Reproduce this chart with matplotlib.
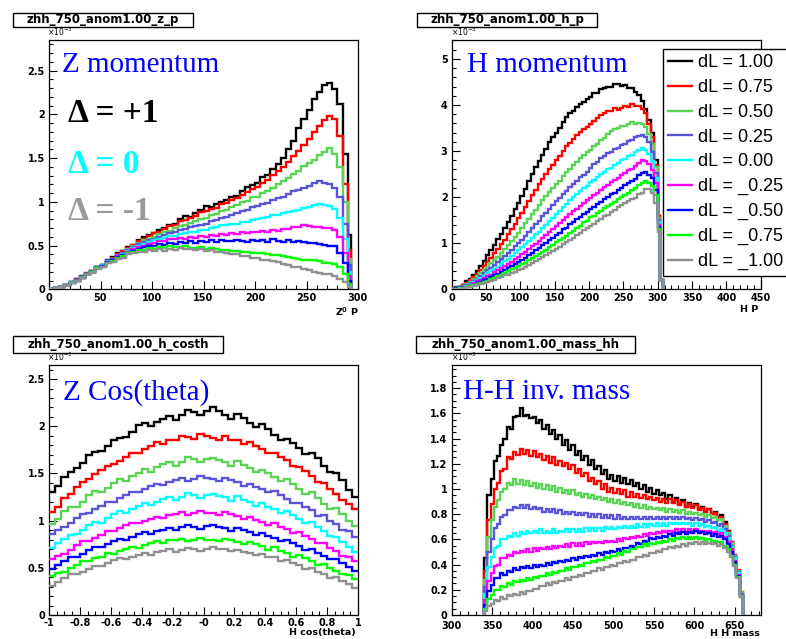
import numpy as np
import matplotlib
matplotlib.use("Agg")
import matplotlib.pyplot as plt
from matplotlib.ticker import MultipleLocator, FixedLocator, FuncFormatter
from matplotlib.patches import Rectangle

# ---------------- data (values in units of 1e-3) ----------------
LABELS = ["dL = 1.00", "dL = 0.75", "dL = 0.50", "dL = 0.25", "dL = 0.00",
          "dL = _0.25", "dL = _0.50", "dL = _0.75", "dL = _1.00"]
COLORS = ["#000000", "#ff0000", "#59d454", "#5954d9", "#00ffff",
          "#ff00ff", "#0000ff", "#00ff00", "#909090"]

# Z momentum (bin edges in GeV)
zp_edges = list(range(0, 281, 5)) + [285, 290, 293]
zp_p100 = [0.00,0.02,0.03,0.05,0.08,0.12,0.15,0.19,0.21,0.25,0.28,0.33,0.37,0.41,0.44,0.48,0.51,0.56,0.60,0.62,
           0.64,0.68,0.70,0.74,0.75,0.80,0.84,0.83,0.87,0.91,0.95,0.94,0.97,1.00,1.02,1.06,1.07,1.12,1.17,1.19,
           1.21,1.28,1.31,1.37,1.43,1.50,1.60,1.70,1.84,1.95,2.05,2.18,2.26,2.33,2.36,2.29,2.12,1.55,0.62]
zp_p075 = [0.00,0.02,0.03,0.05,0.08,0.12,0.14,0.18,0.21,0.25,0.28,0.32,0.36,0.40,0.44,0.47,0.51,0.55,0.58,0.61,
           0.64,0.66,0.69,0.72,0.74,0.78,0.79,0.82,0.84,0.88,0.89,0.92,0.93,0.97,0.99,1.02,1.04,1.08,1.11,1.15,
           1.17,1.22,1.25,1.31,1.35,1.40,1.46,1.52,1.58,1.65,1.72,1.80,1.87,1.93,1.98,1.95,1.75,1.20,0.45]
zp_p050 = [0.00,0.02,0.03,0.05,0.08,0.11,0.14,0.18,0.21,0.25,0.28,0.32,0.35,0.39,0.42,0.46,0.49,0.53,0.56,0.58,
           0.60,0.63,0.65,0.67,0.70,0.72,0.73,0.76,0.78,0.80,0.82,0.85,0.86,0.90,0.91,0.94,0.96,1.00,1.01,1.05,
           1.06,1.10,1.12,1.16,1.20,1.24,1.27,1.32,1.35,1.41,1.44,1.48,1.53,1.57,1.61,1.55,1.40,1.00,0.35]
zp_p025 = [0.00,0.02,0.03,0.05,0.08,0.11,0.14,0.18,0.21,0.25,0.28,0.32,0.35,0.39,0.41,0.45,0.48,0.52,0.54,0.56,
           0.58,0.60,0.62,0.64,0.65,0.68,0.69,0.71,0.72,0.74,0.75,0.78,0.79,0.81,0.83,0.85,0.87,0.89,0.91,0.94,
           0.95,0.97,0.99,1.02,1.04,1.06,1.09,1.12,1.14,1.16,1.18,1.22,1.24,1.22,1.20,1.16,1.05,0.75,0.28]
zp_p000 = [0.00,0.02,0.03,0.05,0.08,0.10,0.14,0.18,0.20,0.24,0.28,0.32,0.34,0.38,0.40,0.44,0.47,0.50,0.52,0.54,
           0.56,0.58,0.59,0.61,0.61,0.63,0.64,0.66,0.66,0.68,0.68,0.70,0.71,0.73,0.73,0.75,0.75,0.77,0.77,0.79,
           0.80,0.82,0.83,0.85,0.85,0.87,0.88,0.90,0.91,0.93,0.94,0.96,0.98,0.96,0.95,0.92,0.82,0.58,0.20]
zp_m025 = [0.00,0.02,0.03,0.05,0.07,0.10,0.13,0.17,0.20,0.24,0.27,0.31,0.34,0.38,0.39,0.43,0.46,0.48,0.50,0.52,
           0.53,0.55,0.55,0.57,0.57,0.59,0.58,0.60,0.59,0.61,0.60,0.62,0.61,0.63,0.62,0.64,0.63,0.65,0.64,0.66,
           0.65,0.67,0.66,0.68,0.67,0.69,0.69,0.71,0.71,0.73,0.72,0.71,0.71,0.70,0.70,0.68,0.60,0.42,0.15]
zp_m050 = [0.00,0.02,0.03,0.05,0.07,0.10,0.13,0.17,0.20,0.24,0.27,0.31,0.33,0.37,0.39,0.42,0.44,0.46,0.48,0.50,
           0.50,0.52,0.51,0.53,0.52,0.54,0.53,0.55,0.53,0.55,0.54,0.56,0.54,0.56,0.55,0.55,0.56,0.55,0.54,0.56,
           0.55,0.56,0.54,0.57,0.55,0.54,0.56,0.54,0.55,0.54,0.53,0.53,0.52,0.51,0.50,0.49,0.42,0.30,0.10]
zp_m075 = [0.00,0.02,0.03,0.05,0.07,0.10,0.13,0.17,0.20,0.24,0.26,0.30,0.32,0.36,0.38,0.41,0.43,0.45,0.45,0.47,
           0.46,0.48,0.47,0.49,0.48,0.48,0.49,0.47,0.47,0.48,0.46,0.47,0.46,0.45,0.45,0.44,0.44,0.43,0.43,0.42,
           0.42,0.41,0.40,0.39,0.39,0.38,0.37,0.36,0.35,0.34,0.33,0.33,0.32,0.30,0.30,0.29,0.25,0.18,0.06]
zp_m100 = [0.00,0.02,0.03,0.05,0.07,0.10,0.13,0.17,0.19,0.23,0.26,0.30,0.31,0.35,0.36,0.40,0.41,0.43,0.43,0.45,
           0.44,0.46,0.44,0.46,0.45,0.47,0.46,0.46,0.45,0.46,0.44,0.45,0.43,0.43,0.42,0.40,0.40,0.38,0.38,0.36,
           0.36,0.34,0.34,0.32,0.31,0.29,0.28,0.26,0.25,0.23,0.22,0.20,0.19,0.17,0.17,0.15,0.12,0.08,0.03]

# H momentum
hp_edges = list(range(0, 301, 5)) + [304, 308]
hp_p100 = [0.01,0.04,0.06,0.10,0.17,0.23,0.32,0.40,0.51,0.61,0.74,0.86,0.97,1.09,1.21,1.33,1.46,1.60,1.74,1.87,
           2.03,2.17,2.35,2.50,2.66,2.79,2.92,3.04,3.20,3.31,3.40,3.50,3.62,3.73,3.82,3.88,3.95,4.02,4.06,4.14,
           4.18,4.26,4.26,4.34,4.36,4.40,4.38,4.45,4.46,4.41,4.43,4.37,4.37,4.29,4.22,4.08,3.92,3.68,3.40,2.80,
           1.60,0.20]
hp_p075 = [0.01,0.03,0.05,0.09,0.14,0.20,0.27,0.33,0.42,0.50,0.59,0.69,0.78,0.88,0.98,1.08,1.19,1.31,1.42,1.54,
           1.66,1.78,1.92,2.04,2.16,2.28,2.40,2.50,2.60,2.70,2.80,2.90,3.00,3.10,3.18,3.26,3.34,3.42,3.47,3.53,
           3.59,3.65,3.72,3.78,3.82,3.88,3.86,3.94,3.90,3.93,3.98,3.96,4.02,3.98,3.97,3.92,3.82,3.58,3.30,2.70,
           1.60,0.20]
hp_p050 = [0.01,0.03,0.04,0.08,0.12,0.16,0.22,0.28,0.35,0.41,0.48,0.56,0.63,0.71,0.79,0.87,0.96,1.04,1.14,1.22,
           1.33,1.43,1.53,1.63,1.73,1.83,1.93,2.03,2.11,2.19,2.28,2.36,2.46,2.54,2.61,2.69,2.76,2.84,2.91,2.99,
           3.03,3.11,3.16,3.24,3.28,3.36,3.43,3.47,3.50,3.54,3.55,3.59,3.62,3.58,3.61,3.59,3.52,3.38,3.15,2.65,
           1.55,0.20]
hp_p025 = [0.01,0.02,0.04,0.06,0.10,0.14,0.19,0.23,0.29,0.35,0.41,0.47,0.53,0.59,0.66,0.72,0.79,0.85,0.93,1.01,
           1.08,1.16,1.24,1.32,1.41,1.49,1.58,1.66,1.74,1.82,1.91,1.99,2.06,2.14,2.21,2.29,2.36,2.44,2.49,2.55,
           2.63,2.71,2.76,2.84,2.89,2.95,2.99,3.05,3.07,3.13,3.15,3.21,3.24,3.30,3.32,3.34,3.30,3.20,2.98,2.52,
           1.50,0.20]
hp_p000 = [0.00,0.02,0.03,0.05,0.08,0.12,0.16,0.20,0.25,0.29,0.35,0.39,0.45,0.49,0.55,0.61,0.66,0.72,0.79,0.85,
           0.92,0.98,1.05,1.11,1.19,1.25,1.34,1.40,1.49,1.55,1.64,1.70,1.79,1.85,1.94,2.00,2.07,2.13,2.19,2.25,
           2.32,2.38,2.44,2.50,2.54,2.60,2.64,2.70,2.74,2.80,2.83,2.89,2.92,2.98,3.02,3.07,3.02,2.94,2.78,2.42,
           1.45,0.20]
hp_m025 = [0.00,0.02,0.02,0.04,0.06,0.10,0.13,0.17,0.20,0.24,0.28,0.32,0.37,0.41,0.46,0.50,0.55,0.59,0.65,0.71,
           0.76,0.82,0.87,0.93,0.99,1.05,1.11,1.17,1.24,1.30,1.37,1.43,1.50,1.56,1.63,1.69,1.75,1.81,1.87,1.93,
           1.99,2.05,2.10,2.16,2.21,2.27,2.32,2.38,2.42,2.48,2.52,2.58,2.62,2.68,2.74,2.80,2.79,2.71,2.58,2.30,
           1.40,0.20]
hp_m050 = [0.00,0.02,0.02,0.04,0.06,0.08,0.10,0.14,0.16,0.20,0.23,0.27,0.30,0.34,0.38,0.42,0.46,0.50,0.55,0.59,
           0.64,0.68,0.74,0.78,0.85,0.89,0.96,1.00,1.07,1.11,1.18,1.22,1.30,1.34,1.41,1.45,1.53,1.57,1.64,1.68,
           1.75,1.79,1.86,1.90,1.96,2.00,2.06,2.10,2.16,2.20,2.26,2.30,2.36,2.40,2.47,2.53,2.55,2.49,2.42,2.16,
           1.35,0.20]
hp_m075 = [0.00,0.01,0.02,0.03,0.05,0.07,0.09,0.11,0.14,0.16,0.19,0.23,0.25,0.29,0.32,0.36,0.39,0.43,0.46,0.50,
           0.54,0.58,0.63,0.67,0.72,0.76,0.82,0.86,0.92,0.96,1.02,1.06,1.12,1.16,1.23,1.27,1.34,1.38,1.45,1.49,
           1.56,1.60,1.66,1.70,1.76,1.80,1.86,1.90,1.96,2.00,2.05,2.09,2.15,2.19,2.26,2.31,2.34,2.30,2.24,2.04,
           1.30,0.20]
hp_m100 = [0.00,0.00,0.01,0.03,0.04,0.06,0.07,0.09,0.11,0.13,0.15,0.19,0.20,0.24,0.26,0.30,0.32,0.36,0.38,0.42,
           0.45,0.49,0.53,0.57,0.61,0.65,0.70,0.74,0.79,0.83,0.88,0.92,0.98,1.02,1.08,1.12,1.18,1.22,1.28,1.32,
           1.38,1.42,1.48,1.52,1.58,1.62,1.68,1.72,1.78,1.82,1.87,1.91,1.95,1.99,2.06,2.10,2.17,2.18,2.10,1.88,
           1.25,0.20]

# H cos(theta)
ct_edges = np.linspace(-1.0, 1.0, 51)
ct_p100 = [1.30,1.37,1.46,1.52,1.56,1.61,1.70,1.73,1.74,1.79,1.85,1.88,1.89,1.94,2.01,2.04,2.00,2.05,2.08,2.11,
           2.07,2.12,2.17,2.15,2.12,2.16,2.20,2.16,2.12,2.08,2.13,2.09,2.03,1.99,2.02,1.97,1.91,1.86,1.87,1.82,
           1.77,1.71,1.72,1.66,1.58,1.52,1.50,1.43,1.32,1.25]
ct_p075 = [1.09,1.15,1.24,1.28,1.36,1.41,1.44,1.49,1.54,1.58,1.60,1.63,1.68,1.72,1.72,1.76,1.79,1.83,1.81,1.85,
           1.86,1.90,1.89,1.87,1.92,1.90,1.88,1.85,1.90,1.86,1.85,1.81,1.83,1.79,1.76,1.72,1.72,1.68,1.64,1.58,
           1.57,1.53,1.47,1.41,1.40,1.34,1.28,1.22,1.18,1.12]
ct_p050 = [0.96,1.02,1.10,1.14,1.15,1.20,1.27,1.31,1.30,1.35,1.40,1.44,1.42,1.47,1.51,1.55,1.52,1.57,1.60,1.62,
           1.58,1.62,1.67,1.65,1.62,1.65,1.66,1.64,1.62,1.58,1.63,1.59,1.56,1.52,1.54,1.50,1.46,1.42,1.44,1.39,
           1.34,1.28,1.30,1.24,1.18,1.12,1.13,1.07,1.00,0.94]
ct_p025 = [0.86,0.90,0.93,0.98,1.03,1.07,1.08,1.12,1.16,1.20,1.20,1.24,1.27,1.30,1.30,1.34,1.37,1.39,1.38,1.41,
           1.43,1.45,1.42,1.44,1.47,1.45,1.44,1.42,1.45,1.43,1.41,1.37,1.39,1.36,1.34,1.30,1.31,1.27,1.23,1.19,
           1.19,1.15,1.11,1.05,1.06,1.00,0.96,0.90,0.89,0.83]
ct_p000 = [0.71,0.76,0.81,0.85,0.86,0.90,0.95,0.99,0.98,1.03,1.07,1.10,1.08,1.12,1.16,1.19,1.17,1.20,1.23,1.25,
           1.22,1.25,1.29,1.27,1.24,1.27,1.28,1.26,1.25,1.21,1.26,1.22,1.20,1.16,1.19,1.15,1.12,1.08,1.10,1.06,
           1.02,0.97,0.99,0.93,0.89,0.84,0.83,0.77,0.72,0.67]
ct_m025 = [0.59,0.63,0.65,0.69,0.74,0.78,0.78,0.82,0.85,0.89,0.89,0.92,0.95,0.97,0.97,1.00,1.02,1.04,1.03,1.06,
           1.07,1.09,1.06,1.08,1.10,1.08,1.08,1.06,1.09,1.07,1.05,1.02,1.04,1.01,0.99,0.95,0.97,0.93,0.91,0.87,
           0.88,0.84,0.81,0.76,0.76,0.71,0.68,0.63,0.62,0.57]
ct_m050 = [0.49,0.53,0.57,0.61,0.61,0.65,0.69,0.72,0.72,0.75,0.78,0.81,0.80,0.83,0.86,0.88,0.86,0.89,0.90,0.92,
           0.90,0.93,0.95,0.93,0.91,0.94,0.95,0.93,0.92,0.89,0.92,0.90,0.88,0.85,0.87,0.84,0.82,0.78,0.80,0.76,
           0.73,0.69,0.70,0.66,0.63,0.59,0.59,0.55,0.51,0.47]
ct_m075 = [0.41,0.45,0.46,0.50,0.53,0.57,0.57,0.60,0.62,0.66,0.65,0.68,0.70,0.72,0.71,0.74,0.76,0.78,0.76,0.79,
           0.79,0.81,0.78,0.80,0.82,0.80,0.80,0.78,0.81,0.79,0.77,0.75,0.77,0.75,0.73,0.69,0.72,0.68,0.66,0.62,
           0.64,0.60,0.57,0.53,0.54,0.50,0.47,0.43,0.42,0.38]
ct_m100 = [0.31,0.35,0.39,0.43,0.43,0.46,0.49,0.52,0.52,0.55,0.58,0.60,0.59,0.62,0.64,0.66,0.64,0.67,0.68,0.70,
           0.67,0.69,0.71,0.70,0.68,0.70,0.72,0.70,0.70,0.68,0.69,0.67,0.66,0.64,0.65,0.62,0.61,0.57,0.58,0.55,
           0.53,0.49,0.50,0.46,0.43,0.39,0.40,0.36,0.33,0.29]

# H-H invariant mass
mh_edges = np.arange(340, 661, 4)
mh_p100 = [0.45,0.95,1.08,1.22,1.26,1.35,1.40,1.49,1.48,1.57,1.58,1.64,1.58,1.59,1.56,1.57,1.52,1.55,1.48,1.51,
           1.44,1.47,1.40,1.43,1.35,1.39,1.31,1.35,1.27,1.30,1.23,1.26,1.19,1.23,1.16,1.18,1.12,1.15,1.08,1.11,
           1.06,1.10,1.05,1.09,1.04,1.07,1.02,1.05,1.00,1.03,0.98,1.01,0.96,0.99,0.95,0.97,0.92,0.95,0.90,0.93,
           0.88,0.91,0.86,0.89,0.86,0.88,0.84,0.86,0.82,0.84,0.80,0.82,0.78,0.79,0.74,0.67,0.58,0.47,0.35,0.17]
mh_p075 = [0.35,0.75,0.88,1.00,1.05,1.14,1.16,1.25,1.24,1.29,1.27,1.32,1.28,1.31,1.26,1.30,1.25,1.28,1.23,1.26,
           1.21,1.25,1.19,1.22,1.18,1.21,1.16,1.19,1.13,1.16,1.10,1.13,1.06,1.09,1.04,1.06,1.00,1.04,0.98,1.01,
           0.97,1.00,0.96,0.99,0.94,0.98,0.94,0.96,0.93,0.95,0.92,0.94,0.91,0.93,0.90,0.92,0.89,0.92,0.89,0.91,
           0.87,0.90,0.86,0.88,0.85,0.87,0.83,0.85,0.82,0.84,0.80,0.81,0.77,0.78,0.72,0.66,0.58,0.48,0.36,0.18]
mh_p050 = [0.28,0.62,0.75,0.86,0.91,0.98,1.00,1.05,1.03,1.08,1.04,1.07,1.03,1.06,1.02,1.05,1.01,1.04,1.00,1.03,
           0.99,1.02,0.98,1.01,0.97,0.99,0.96,0.99,0.95,0.97,0.94,0.96,0.93,0.95,0.92,0.94,0.91,0.93,0.90,0.92,
           0.89,0.91,0.88,0.90,0.87,0.89,0.86,0.88,0.85,0.87,0.84,0.86,0.84,0.85,0.83,0.85,0.82,0.84,0.82,0.83,
           0.81,0.83,0.80,0.82,0.80,0.81,0.79,0.80,0.78,0.79,0.77,0.78,0.75,0.76,0.71,0.65,0.57,0.47,0.35,0.18]
mh_p025 = [0.22,0.50,0.60,0.69,0.72,0.78,0.79,0.83,0.83,0.86,0.85,0.87,0.85,0.87,0.84,0.86,0.84,0.85,0.82,0.84,
           0.82,0.84,0.81,0.83,0.80,0.82,0.80,0.82,0.79,0.81,0.79,0.81,0.78,0.80,0.78,0.80,0.77,0.79,0.77,0.79,
           0.76,0.79,0.76,0.78,0.76,0.78,0.76,0.78,0.76,0.78,0.76,0.78,0.76,0.78,0.76,0.78,0.76,0.78,0.76,0.78,
           0.76,0.78,0.76,0.77,0.75,0.77,0.75,0.76,0.74,0.75,0.73,0.74,0.71,0.72,0.68,0.63,0.55,0.46,0.34,0.17]
mh_p000 = [0.17,0.38,0.46,0.53,0.55,0.60,0.60,0.63,0.62,0.65,0.63,0.66,0.64,0.67,0.65,0.67,0.65,0.68,0.65,0.67,
           0.65,0.68,0.65,0.67,0.66,0.68,0.66,0.68,0.66,0.68,0.66,0.69,0.67,0.69,0.67,0.69,0.67,0.70,0.68,0.70,
           0.68,0.70,0.69,0.71,0.69,0.71,0.69,0.72,0.70,0.72,0.70,0.72,0.71,0.73,0.71,0.73,0.71,0.73,0.72,0.73,
           0.72,0.73,0.72,0.73,0.71,0.73,0.71,0.72,0.70,0.71,0.69,0.70,0.67,0.68,0.65,0.61,0.54,0.45,0.33,0.16]
mh_m025 = [0.12,0.27,0.33,0.39,0.40,0.45,0.45,0.48,0.47,0.50,0.49,0.51,0.50,0.52,0.50,0.53,0.51,0.53,0.52,0.54,
           0.52,0.55,0.53,0.55,0.54,0.56,0.54,0.57,0.55,0.57,0.55,0.58,0.56,0.58,0.57,0.58,0.57,0.59,0.58,0.59,
           0.58,0.60,0.59,0.61,0.60,0.62,0.61,0.63,0.62,0.64,0.63,0.65,0.64,0.66,0.65,0.67,0.66,0.67,0.66,0.68,
           0.66,0.68,0.66,0.68,0.66,0.68,0.66,0.67,0.66,0.67,0.65,0.66,0.64,0.65,0.62,0.58,0.52,0.43,0.32,0.16]
mh_m050 = [0.08,0.19,0.24,0.29,0.29,0.33,0.32,0.35,0.34,0.37,0.36,0.38,0.37,0.39,0.37,0.40,0.38,0.40,0.39,0.41,
           0.40,0.42,0.41,0.43,0.42,0.44,0.43,0.45,0.44,0.46,0.45,0.47,0.46,0.48,0.47,0.49,0.48,0.50,0.49,0.51,
           0.50,0.52,0.51,0.53,0.53,0.55,0.54,0.57,0.56,0.59,0.58,0.61,0.60,0.62,0.61,0.63,0.62,0.64,0.63,0.65,
           0.64,0.66,0.64,0.66,0.65,0.67,0.65,0.66,0.64,0.65,0.63,0.64,0.62,0.63,0.60,0.56,0.50,0.42,0.31,0.15]
mh_m075 = [0.05,0.13,0.16,0.20,0.20,0.23,0.22,0.25,0.24,0.27,0.26,0.28,0.27,0.29,0.28,0.30,0.29,0.31,0.31,0.33,
           0.32,0.34,0.33,0.35,0.35,0.37,0.36,0.38,0.38,0.40,0.39,0.41,0.41,0.43,0.42,0.44,0.44,0.46,0.45,0.47,
           0.47,0.49,0.48,0.51,0.50,0.52,0.52,0.54,0.54,0.56,0.55,0.57,0.56,0.58,0.57,0.59,0.58,0.60,0.59,0.61,
           0.60,0.62,0.60,0.62,0.60,0.62,0.60,0.61,0.59,0.60,0.59,0.59,0.58,0.58,0.55,0.52,0.47,0.40,0.30,0.15]
mh_m100 = [0.03,0.07,0.09,0.12,0.11,0.14,0.13,0.16,0.15,0.17,0.16,0.18,0.17,0.19,0.19,0.21,0.21,0.23,0.23,0.25,
           0.24,0.26,0.25,0.27,0.27,0.29,0.28,0.30,0.30,0.32,0.31,0.33,0.33,0.35,0.35,0.37,0.36,0.38,0.38,0.40,
           0.39,0.41,0.41,0.43,0.42,0.44,0.44,0.46,0.46,0.48,0.47,0.49,0.49,0.51,0.50,0.52,0.52,0.54,0.53,0.55,
           0.54,0.56,0.55,0.57,0.56,0.58,0.56,0.58,0.56,0.57,0.56,0.57,0.55,0.56,0.53,0.50,0.46,0.39,0.29,0.14]

ZP = [zp_p100, zp_p075, zp_p050, zp_p025, zp_p000, zp_m025, zp_m050, zp_m075, zp_m100]
HP = [hp_p100, hp_p075, hp_p050, hp_p025, hp_p000, hp_m025, hp_m050, hp_m075, hp_m100]
CT = [ct_p100, ct_p075, ct_p050, ct_p025, ct_p000, ct_m025, ct_m050, ct_m075, ct_m100]
MH = [mh_p100, mh_p075, mh_p050, mh_p025, mh_p000, mh_m025, mh_m050, mh_m075, mh_m100]

# ---------------- figure ----------------
W, H = 786, 639
fig = plt.figure(figsize=(W / 100, H / 100), dpi=100)
fig.patch.set_facecolor("white")


def fx(x):
    return x / W


def fy(y):
    return 1 - y / H


def gfmt(v, pos):
    return "%g" % round(v, 6)


def costh_fmt(v, pos):
    if abs(v) < 1e-9:
        return "-0"
    return "%g" % round(v, 6)


def style(ax, xlim, ylim, xmaj, xmin, ymaj, ymin, xfmt=gfmt, xticks=None, xpad=2.5):
    ax.set_xlim(*xlim)
    ax.set_ylim(*ylim)
    if xticks is None:
        ax.xaxis.set_major_locator(MultipleLocator(xmaj))
    else:
        ax.xaxis.set_major_locator(FixedLocator(xticks))
    ax.xaxis.set_minor_locator(MultipleLocator(xmin))
    ax.yaxis.set_major_locator(MultipleLocator(ymaj))
    ax.yaxis.set_minor_locator(MultipleLocator(ymin))
    ax.xaxis.set_major_formatter(FuncFormatter(xfmt))
    ax.yaxis.set_major_formatter(FuncFormatter(gfmt))
    ax.tick_params(which="both", direction="in", top=False, right=False,
                   width=0.8, color="black")
    ax.tick_params(axis="y", which="major", length=6, pad=3)
    ax.tick_params(axis="y", which="minor", length=3)
    ax.tick_params(axis="x", which="major", length=5.5, pad=xpad)
    ax.tick_params(axis="x", which="minor", length=2.8)
    for lab in ax.get_xticklabels() + ax.get_yticklabels():
        lab.set_fontfamily("DejaVu Sans")
        lab.set_fontweight("bold")
        lab.set_fontsize(7)
    for sp in ax.spines.values():
        sp.set_linewidth(0.9)
        sp.set_color("black")


ax1 = fig.add_axes([fx(49), fy(289.3), 309 / W, 249.3 / H])
ax2 = fig.add_axes([fx(451.7), fy(289.3), 309 / W, 249.3 / H])
ax3 = fig.add_axes([fx(49), fy(615), 309 / W, 250 / H])
ax4 = fig.add_axes([fx(451.7), fy(615), 309 / W, 250 / H])

for ax, edges, series, base in [(ax1, zp_edges, ZP, 0), (ax2, hp_edges, HP, 0),
                                 (ax3, ct_edges, CT, None), (ax4, mh_edges, MH, 0)]:
    for i, (vals, col, lab) in enumerate(zip(series, COLORS, LABELS)):
        ax.stairs(vals, edges, color=col, lw=1.7, baseline=base, label=lab, zorder=2 + i)

style(ax1, (0, 300), (0, 2.85), 50, 10, 0.5, 0.1)
style(ax2, (0, 450), (0, 5.41), 50, 10, 1, 0.2)
style(ax3, (-1, 1), (0, 2.65), 0.2, 0.05, 0.5, 0.1, xfmt=costh_fmt)
style(ax4, (300, 682), (0, 1.984), 50, 10, 0.2, 0.05,
      xticks=[300, 350, 400, 450, 500, 550, 600, 650], xpad=4.3)


def title_box(x0, y0, x1, y1, text):
    fig.add_artist(Rectangle((fx(x0), fy(y1)), (x1 - x0) / W, (y1 - y0) / H,
                             transform=fig.transFigure, facecolor="white",
                             edgecolor="black", lw=1.0))
    fig.text(fx((x0 + x1) / 2), fy((y0 + y1) / 2), text, ha="center", va="center",
             family="DejaVu Sans", weight="bold", fontsize=8.5)


title_box(13, 13, 193, 27, "zhh_750_anom1.00_z_p")
title_box(417, 13, 597, 27, "zhh_750_anom1.00_h_p")
title_box(13, 336, 223, 353, "zhh_750_anom1.00_h_costh")
title_box(416, 336, 635, 353, "zhh_750_anom1.00_mass_hh")

# exponent labels
for (x, y) in [(47, 36), (451, 36), (47, 361), (451, 361)]:
    fig.text(fx(x), fy(y), r"$\times$10$^{-3}$", fontsize=5.5, family="DejaVu Sans",
             va="baseline", ha="left")

# axis titles
for (x, y, t) in [(359, 312, "Z$^{\\mathbf{0}}$ P"), (758, 310, "H P"),
                  (356, 633, "H cos(theta)"), (760, 634, "H H mass")]:
    fig.text(fx(x), fy(y), t, ha="right", va="center", family="DejaVu Sans",
             weight="bold", fontsize=6.8)

# big annotations
SERIF = "Liberation Serif"
fig.text(fx(62), fy(72), "Z momentum", color="#0000ff", family=SERIF, fontsize=21, va="baseline")
fig.text(fx(467), fy(72), "H momentum", color="#0000ff", family=SERIF, fontsize=21, va="baseline")
fig.text(fx(63), fy(400), "Z Cos(theta)", color="#0000ff", family=SERIF, fontsize=21, va="baseline")
fig.text(fx(463), fy(399), "H-H inv. mass", color="#0000ff", family=SERIF, fontsize=21, va="baseline")
fig.text(fx(68), fy(122), "\u0394 = +1", color="black", family=SERIF, weight="bold", fontsize=24, va="baseline")
fig.text(fx(68), fy(173), "\u0394 = 0", color="#00ffff", family=SERIF, weight="bold", fontsize=24, va="baseline")
fig.text(fx(68), fy(220), "\u0394 = -1", color="#999999", family=SERIF, weight="bold", fontsize=24, va="baseline")

# legend
leg = ax2.legend(loc="upper left", bbox_to_anchor=(fx(663), fy(49)),
                 bbox_transform=fig.transFigure, frameon=True, fancybox=False,
                 edgecolor="black", framealpha=1, borderaxespad=0,
                 prop=dict(family="Liberation Sans", size=13),
                 handlelength=1.3, handletextpad=0.35, labelspacing=0.43,
                 borderpad=0.3)
leg.get_frame().set_linewidth(1.0)
leg.set_zorder(20)

fig.savefig("out.png", dpi=100)
